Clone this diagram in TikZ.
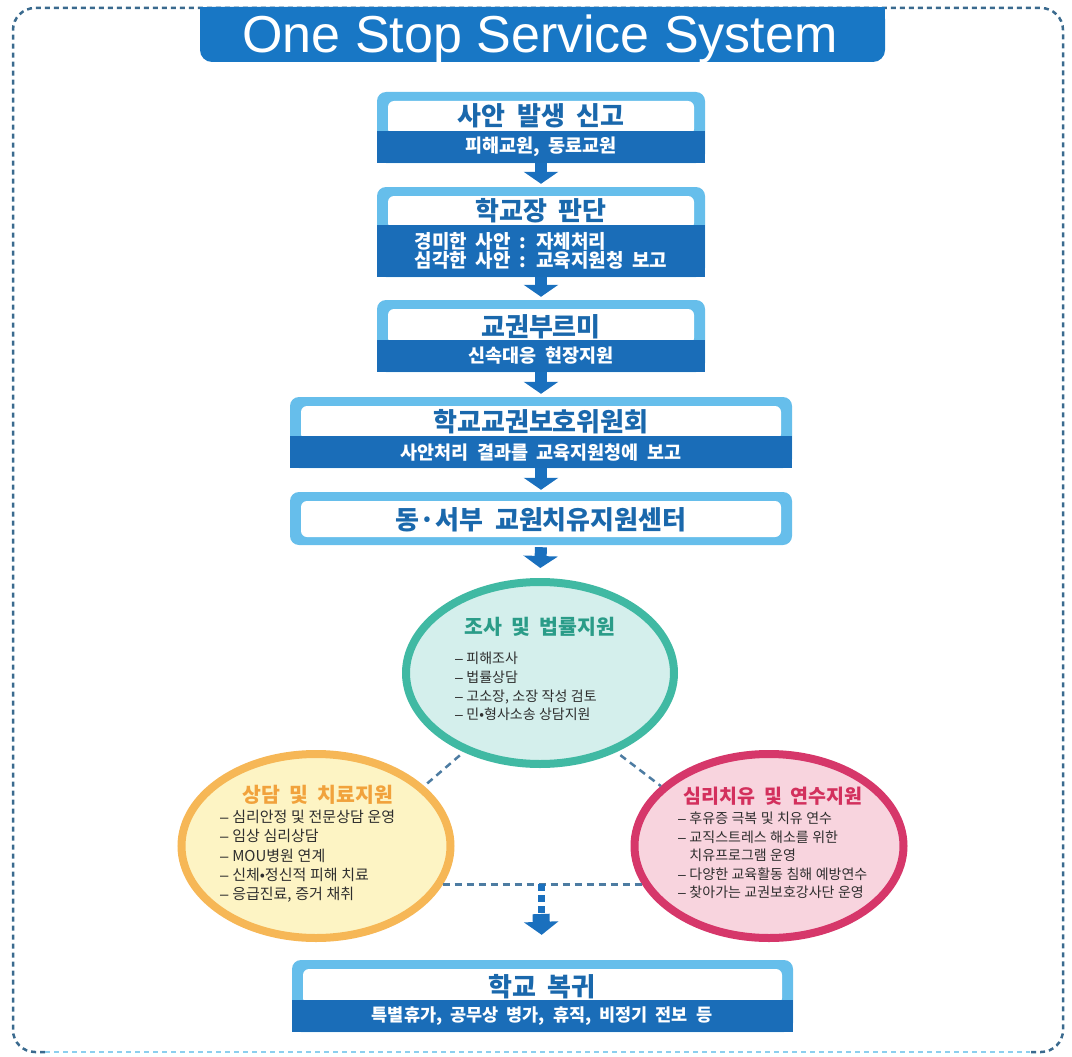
\documentclass[tikz,border=0pt]{standalone}
\usepackage{fontspec}
\setmainfont{Noto Sans CJK KR}[WordSpace=2]
\newfontfamily\itemfont{Noto Sans CJK KR}[WordSpace=1.1]
\newfontfamily\latinfont{Liberation Sans}
\usetikzlibrary{arrows.meta,shapes.geometric,calc}
\definecolor{framelight}{HTML}{66BEEB}
\definecolor{banddark}{HTML}{1A6DB8}
\definecolor{titlebox}{HTML}{1877C5}
\definecolor{titletext}{HTML}{1A68AC}
\definecolor{arrowblue}{HTML}{1A70BE}
\definecolor{borderdark}{HTML}{3A6A8E}
\definecolor{borderlight}{HTML}{8CCFEE}
\definecolor{dashline}{HTML}{4D7CA2}
\definecolor{tealline}{HTML}{40B9A3}
\definecolor{tealfill}{HTML}{D4EFEC}
\definecolor{tealtext}{HTML}{2A9C88}
\definecolor{orangeline}{HTML}{F6B756}
\definecolor{orangefill}{HTML}{FDF4C4}
\definecolor{orangetext}{HTML}{F1A23C}
\definecolor{redline}{HTML}{D6376A}
\definecolor{redfill}{HTML}{F8D4DE}
\definecolor{redtext}{HTML}{D3305D}
\definecolor{itemtext}{HTML}{2E2E2E}
\newcommand{\itemdash}{{\latinfont –}\hspace{0.25em}}
\begin{document}
\begin{tikzpicture}[x=1pt,y=-1pt,
  outerframe/.style={fill=framelight, rounded corners=9pt, inner sep=0pt, draw=none},
  boxtitle/.style={text=titletext, font=\bfseries\fontsize{26}{30}\selectfont, inner sep=0pt},
  bandtext/.style={text=white, font=\bfseries\fontsize{18.5}{18.5}\selectfont, inner sep=0pt, align=left},
  flowarrow/.style={draw=arrowblue, line width=12pt, -{Triangle[width=34pt,length=12pt]}},
  blob/.style={ellipse, line width=8pt, inner sep=0pt},
  blobtitle/.style={font=\bfseries\fontsize{20.5}{24}\selectfont, inner sep=0pt},
  itemlist/.style={text=itemtext, align=left, inner sep=0pt, anchor=north west},
  linkdash/.style={draw=dashline, line width=2.5pt, dash pattern=on 7pt off 5pt},
]
\useasboundingbox (0,0) rectangle (1072,1057);

% outer dashed frame
\draw[borderdark, line width=2.5pt, dash pattern=on 5pt off 4pt, rounded corners=22pt]
  (45,1052) -- (13,1052) -- (13,8) -- (1063,8) -- (1063,1052) -- (1030,1052);
\draw[borderlight, line width=2.5pt, dash pattern=on 5pt off 4pt] (45,1052) -- (1030,1052);

% title bar
\fill[titlebox, rounded corners=12pt] (200,7) rectangle (885,62);
\fill[titlebox] (200,7) rectangle (885,30);
\node[text=white, font=\latinfont\fontsize{52}{60}\selectfont, anchor=base, inner sep=0pt] (title) at (540,53) {One Stop Service System};

% box 1
\node[outerframe, minimum width=328pt, minimum height=71pt] (b1) at (541,127.5) {};
\fill[white, rounded corners=6pt] (388,101) rectangle (694,135);
\fill[banddark] (377,131) rectangle (705,163);
\node[boxtitle] (t1) at (541,116) {사안 발생 신고};
\node[bandtext] (s1) at (541,147) {피해교원, 동료교원};

% box 2
\node[outerframe, minimum width=328pt, minimum height=90pt] (b2) at (541,232) {};
\fill[white, rounded corners=6pt] (388,196) rectangle (694,229);
\fill[banddark] (377,225) rectangle (705,277);
\node[boxtitle] (t2) at (541,211) {학교장 판단};
\node[bandtext, font=\bfseries\fontsize{19}{18.5}\selectfont] (s2) at (541,251) {경미한 사안 : 자체처리\\심각한 사안 : 교육지원청 보고};

% box 3
\node[outerframe, minimum width=328pt, minimum height=72pt] (b3) at (541,336) {};
\fill[white, rounded corners=6pt] (388,309) rectangle (694,344);
\fill[banddark] (377,340) rectangle (705,372);
\node[boxtitle] (t3) at (541,327) {교권부르미};
\node[bandtext] (s3) at (541,356) {신속대응 현장지원};

% box 4
\node[outerframe, minimum width=502pt, minimum height=71pt] (b4) at (541,432.5) {};
\fill[white, rounded corners=6pt] (301,406) rectangle (781,440);
\fill[banddark] (290,436) rectangle (792,468);
\node[boxtitle] (t4) at (541,422) {학교교권보호위원회};
\node[bandtext] (s4) at (541,453) {사안처리 결과를 교육지원청에 보고};

% box 5
\node[outerframe, minimum width=502pt, minimum height=53pt] (b5) at (541,518.5) {};
\fill[white, rounded corners=6pt] (301,501) rectangle (781,537);
\node[boxtitle] (t5) at (541,520) {동·서부 교원치유지원센터};

% box 6
\node[outerframe, minimum width=501pt, minimum height=72pt] (b6) at (542.5,996) {};
\fill[white, rounded corners=6pt] (303,969) rectangle (782,1004);
\fill[banddark] (292,1000) rectangle (793,1032);
\node[boxtitle] (t6) at (542,987) {학교 복귀};
\node[bandtext, font=\bfseries\fontsize{17.5}{18}\selectfont] (s6) at (542,1016) {특별휴가, 공무상 병가, 휴직, 비정기 전보 등};

% ellipses
\node[blob, draw=tealline, fill=tealfill, minimum width=268pt, minimum height=182pt] (e1) at (540,673) {};
\node[blob, draw=orangeline, fill=orangefill, minimum width=269pt, minimum height=184pt] (e2) at (316,846) {};
\node[blob, draw=redline, fill=redfill, minimum width=269pt, minimum height=184pt] (e3) at (769,846) {};

% dashed links
\draw[linkdash, shorten <=5pt] (e1.226) -- (e2.29);
\draw[linkdash, shorten <=5pt] (e1.314) -- (e3.151);
\coordinate (m) at (541,884);
\coordinate (ms) at (541,914);
\draw[linkdash] (e2.-17) -- (e3.197);
\draw[draw=arrowblue, line width=7pt, dash pattern=on 7pt off 4pt] (m) -- (ms);
\draw[draw=arrowblue, line width=17pt, -{Triangle[width=34pt,length=13pt]}, shorten >=25pt] (ms) -- (b6.north);

% ellipse texts
\node[blobtitle, text=tealtext] (e1t) at (540,627) {조사 및 법률지원};
\node[itemlist, font=\itemfont\fontsize{14}{18.7}\selectfont] (e1l) at (455,652) {\itemdash 피해조사\\\itemdash 법률상담\\\itemdash 고소장, 소장 작성 검토\\\itemdash 민•형사소송 상담지원};

\node[blobtitle, text=orangetext] (e2t) at (318,795) {상담 및 치료지원};
\node[itemlist, font=\itemfont\fontsize{15}{19.2}\selectfont] (e2l) at (220,810) {\itemdash 심리안정 및 전문상담 운영\\\itemdash 임상 심리상담\\\itemdash MOU병원 연계\\\itemdash 신체•정신적 피해 치료\\\itemdash 응급진료, 증거 채취};

\node[blobtitle, text=redtext, font=\bfseries\fontsize{19.5}{24}\selectfont] (e3t) at (773,796) {심리치유 및 연수지원};
\node[itemlist, font=\itemfont\fontsize{14}{18.4}\selectfont] (e3l) at (678,812) {\itemdash 후유증 극복 및 치유 연수\\\itemdash 교직스트레스 해소를 위한\\\phantom{\itemdash}치유프로그램 운영\\\itemdash 다양한 교육활동 침해 예방연수\\\itemdash 찾아가는 교권보호강사단 운영};

% flow arrows
\draw[flowarrow, shorten >=3pt] (b1.south) -- (b2.north);
\draw[flowarrow, shorten >=3pt] (b2.south) -- (b3.north);
\draw[flowarrow, shorten >=3pt] (b3.south) -- (b4.north);
\draw[flowarrow, shorten >=2pt] (b4.south) -- (b5.north);
\draw[flowarrow, shorten >=10pt, shorten <=2pt] (b5.south) -- (e1.north);
\end{tikzpicture}
\end{document}
